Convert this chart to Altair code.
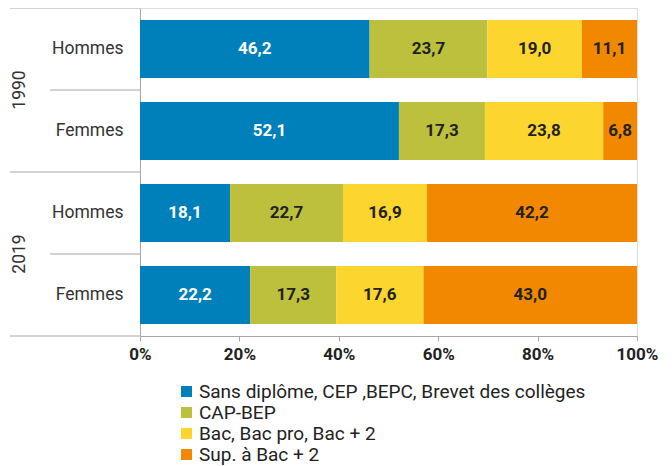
import altair as alt
import pandas as pd

years = ["1990", "1990", "2019", "2019"]
sexes = ["Hommes", "Femmes", "Hommes", "Femmes"]
categories = ["Sans diplôme, CEP ,BEPC, Brevet des collèges", "CAP-BEP",
              "Bac, Bac pro, Bac + 2", "Sup. à Bac + 2"]
colors = ["#0080BA", "#BCC03C", "#FDD52F", "#F18800"]
sans = [46.2, 52.1, 18.1, 22.2]
cap = [23.7, 17.3, 22.7, 17.3]
bac = [19.0, 23.8, 16.9, 17.6]
sup = [11.1, 6.8, 42.2, 43.0]
series = [sans, cap, bac, sup]
x_ticks = [0, 0.2, 0.4, 0.6, 0.8, 1.0]

rows = [f"{y} {s}" for y, s in zip(years, sexes)]
recs = []
for ci, (cat, vals) in enumerate(zip(categories, series)):
    for r, v in zip(rows, vals):
        recs.append({"row": r, "cat": cat, "order": ci, "v": v})
df = pd.DataFrame(recs)

yscale = alt.Scale(domain=rows, paddingInner=0, paddingOuter=0)
GRAY = "#a6a6a6"

base = alt.Chart(df).transform_stack(
    stack="v", groupby=["row"], sort=[alt.SortField("order")], as_=["x0", "x1"], offset="normalize"
).transform_calculate(
    mid="(datum.x0 + datum.x1) / 2",
    lab="replace(format(datum.v, '.1f'), '.', ',')"
)

bars = base.mark_bar(size=58).encode(
    y=alt.Y("row:N", scale=yscale, title=None,
            axis=alt.Axis(labelExpr="split(datum.label, ' ')[1]", ticks=False, labelPadding=17,
                          labelFontSize=17.5, labelColor="#333", labelFont="Roboto",
                          domainColor=GRAY, domain=True)),
    x=alt.X("x0:Q", scale=alt.Scale(domain=[0, 1]), title=None,
            axis=alt.Axis(values=x_ticks, format=".0%", grid=False, labelFontSize=17,
                          labelFontWeight="bold", labelColor="#222", tickSize=5,
                          tickColor=GRAY, domainColor=GRAY, labelPadding=5, labelFont="Roboto",
                          labelFlush=False)),
    x2="x1:Q",
    color=alt.Color("cat:N", scale=alt.Scale(domain=categories, range=colors),
                    legend=alt.Legend(title=None, orient="none", legendX=37, legendY=374,
                                      direction="vertical", symbolType="square", symbolSize=121,
                                      symbolStrokeWidth=0, labelFontSize=19, labelColor="#222",
                                      labelFont="Roboto", rowPadding=1, labelOffset=3,
                                      labelLimit=500)),
)

texts = base.mark_text(fontSize=17, fontWeight="bold", font="Roboto").encode(
    y=alt.Y("row:N", scale=yscale),
    x=alt.X("mid:Q"),
    text="lab:N",
    color=alt.condition(alt.datum.order == 0, alt.value("white"), alt.value("#222")),
)

grp_top = pd.DataFrame({"row": ["1990 Hommes", "2019 Hommes"]})
grp_bot = pd.DataFrame({"row": ["2019 Femmes"]})
sub_top = pd.DataFrame({"row": ["1990 Femmes", "2019 Femmes"]})

r1 = alt.Chart(grp_top).mark_rule(color=GRAY, strokeWidth=1).encode(
    y=alt.Y("row:N", scale=yscale, bandPosition=0), x=alt.value(-130), x2=alt.value(0))
r2 = alt.Chart(grp_bot).mark_rule(color=GRAY, strokeWidth=1).encode(
    y=alt.Y("row:N", scale=yscale, bandPosition=1), x=alt.value(-130), x2=alt.value(0))
r3 = alt.Chart(sub_top).mark_rule(color=GRAY, strokeWidth=1).encode(
    y=alt.Y("row:N", scale=yscale, bandPosition=0), x=alt.value(-90), x2=alt.value(0))

year_df = pd.DataFrame({"row": ["1990 Femmes", "2019 Femmes"], "year": ["1990", "2019"]})
ylab = alt.Chart(year_df).mark_text(angle=270, fontSize=17.5, color="#333", font="Roboto",
                                     align="center", baseline="middle").encode(
    y=alt.Y("row:N", scale=yscale, bandPosition=0), x=alt.value(-120), text="year:N")

chart = alt.layer(bars, texts, r1, r2, r3, ylab).properties(
    width=497, height=328,
    autosize=alt.AutoSizeParams(type="none"),
    padding={"left": 132, "top": 0, "right": 27, "bottom": 129},
).configure_view(stroke=None).configure(font="Roboto")

chart.save("out.html", embed_options={"renderer": "svg", "actions": False})
